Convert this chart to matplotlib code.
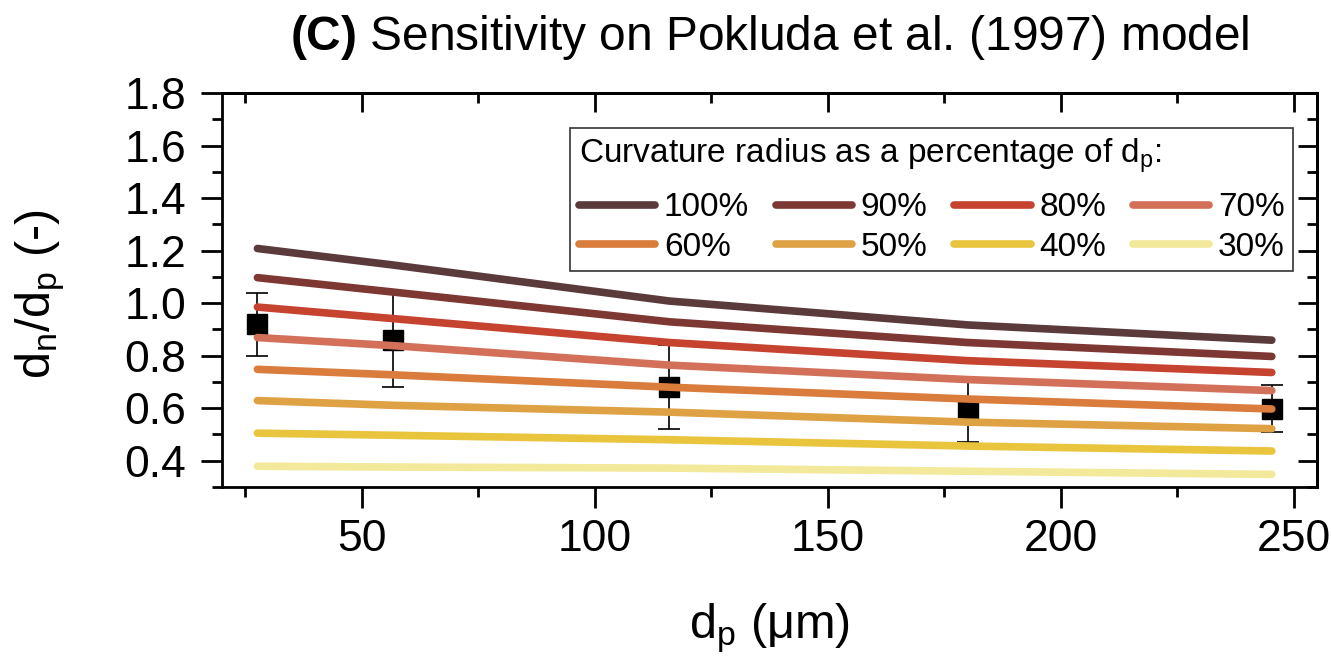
import matplotlib
matplotlib.use("Agg")
import matplotlib.pyplot as plt
from matplotlib.ticker import MultipleLocator

plt.rcParams["font.family"] = ["Liberation Sans", "DejaVu Sans"]
plt.rcParams["mathtext.fontset"] = "custom"
plt.rcParams["mathtext.rm"] = "Liberation Sans"
plt.rcParams["mathtext.it"] = "Liberation Sans:italic"
plt.rcParams["mathtext.bf"] = "Liberation Sans:bold"

# particle sizes (um) where the model and the measurements are given
dp = [27.6, 56.8, 116, 180, 245.3]

# model curves, one per curvature radius (% of dp)
labels = ["100%", "90%", "80%", "70%", "60%", "50%", "40%", "30%"]
r100 = [1.208, 1.145, 1.008, 0.917, 0.859]
r90 = [1.097, 1.042, 0.929, 0.850, 0.797]
r80 = [0.985, 0.941, 0.850, 0.781, 0.736]
r70 = [0.869, 0.838, 0.764, 0.709, 0.667]
r60 = [0.748, 0.727, 0.680, 0.635, 0.597]
r50 = [0.629, 0.611, 0.585, 0.547, 0.522]
r40 = [0.505, 0.497, 0.480, 0.456, 0.437]
r30 = [0.379, 0.376, 0.372, 0.360, 0.348]
colors = ["#5b3a3c", "#7e3833", "#c5432f", "#d3705a",
          "#d97c3c", "#dea144", "#e8c53c", "#f3e99a"]

# measurements with error bar limits
meas = [0.92, 0.86, 0.682, 0.589, 0.597]
meas_lo = [0.80, 0.68, 0.519, 0.471, 0.509]
meas_hi = [1.04, 1.04, 0.84, 0.711, 0.689]

fig = plt.figure(figsize=(13.31, 6.61), dpi=100)
ax = fig.add_axes([222 / 1331, 1 - 487 / 661, 1095 / 1331, 394 / 661])

err = [[m - l for m, l in zip(meas, meas_lo)], [h - m for m, h in zip(meas, meas_hi)]]
ax.errorbar(dp, meas, yerr=err, fmt="s", color="k", ms=15, capsize=8,
            elinewidth=1.2, capthick=1.2, zorder=2)

handles = []
for vals, lab, c in zip([r100, r90, r80, r70, r60, r50, r40, r30], labels, colors):
    h, = ax.plot(dp, vals, color=c, lw=5.5, solid_capstyle="round", label=lab, zorder=3)
    handles.append(h)

ax.set_xlim(20, 255)
ax.set_ylim(0.3, 1.8)
ax.xaxis.set_major_locator(MultipleLocator(50))
ax.xaxis.set_minor_locator(MultipleLocator(25))
ax.yaxis.set_major_locator(MultipleLocator(0.2))
ax.yaxis.set_minor_locator(MultipleLocator(0.1))
ax.yaxis.set_major_formatter(lambda v, p: f"{v:.1f}")
ax.tick_params(which="both", direction="out", width=2, labelsize=32)
ax.tick_params(which="major", length=15)
ax.tick_params(which="minor", length=7.5)
ax.tick_params(axis="y", pad=11)
ax.tick_params(axis="x", pad=8)
for s in ax.spines.values():
    s.set_linewidth(2)

# mirrored ticks on top and right point inwards
secx = ax.secondary_xaxis("top")
secx.xaxis.set_major_locator(MultipleLocator(50))
secx.xaxis.set_minor_locator(MultipleLocator(25))
secx.tick_params(which="both", direction="in", width=2, labeltop=False)
secx.tick_params(which="major", length=14)
secx.tick_params(which="minor", length=7.5)
secx.spines["top"].set_linewidth(2)
secy = ax.secondary_yaxis("right")
secy.yaxis.set_major_locator(MultipleLocator(0.2))
secy.yaxis.set_minor_locator(MultipleLocator(0.1))
secy.tick_params(which="both", direction="in", width=2, labelright=False)
secy.tick_params(which="major", length=14)
secy.tick_params(which="minor", length=7.5)
secy.spines["right"].set_linewidth(2)

ax.set_xlabel("d$_\\mathregular{p}$ (\u03bcm)", fontsize=35)
ax.xaxis.set_label_coords(0.5, (487 - 628) / 394)
ax.xaxis.label.set_va("center")
ax.set_ylabel("d$_\\mathregular{n}$/d$_\\mathregular{p}$ (-)", fontsize=35)
ax.yaxis.set_label_coords((40 - 222) / 1095, 0.49)
ax.yaxis.label.set_va("center")

fig.text(770 / 1331, 1 - 38 / 661, "$\\mathbf{(C)}$ Sensitivity on Pokluda et al. (1997) model",
         fontsize=34.5, ha="center", va="center")

# legend filled row by row: 100 90 80 70 / 60 50 40 30
order = [0, 4, 1, 5, 2, 6, 3, 7]
leg = ax.legend([handles[i] for i in order], [labels[i] for i in order], ncols=4,
                title="Curvature radius as a percentage of d$_\\mathregular{p}$:",
                title_fontsize=24, fontsize=24, loc="upper right",
                bbox_to_anchor=(1293 / 1331, 1 - 128 / 661), bbox_transform=fig.transFigure,
                borderaxespad=0, fancybox=False, edgecolor="#333333", framealpha=1,
                handlelength=2.3, handletextpad=0.25, columnspacing=0.8,
                labelspacing=0.25, borderpad=0.25, alignment="left")
leg.get_frame().set_linewidth(1.2)
# a bit more room between the legend title and the entries
leg._legend_box.sep = 12.5

plt.savefig("out.png", dpi=100)
